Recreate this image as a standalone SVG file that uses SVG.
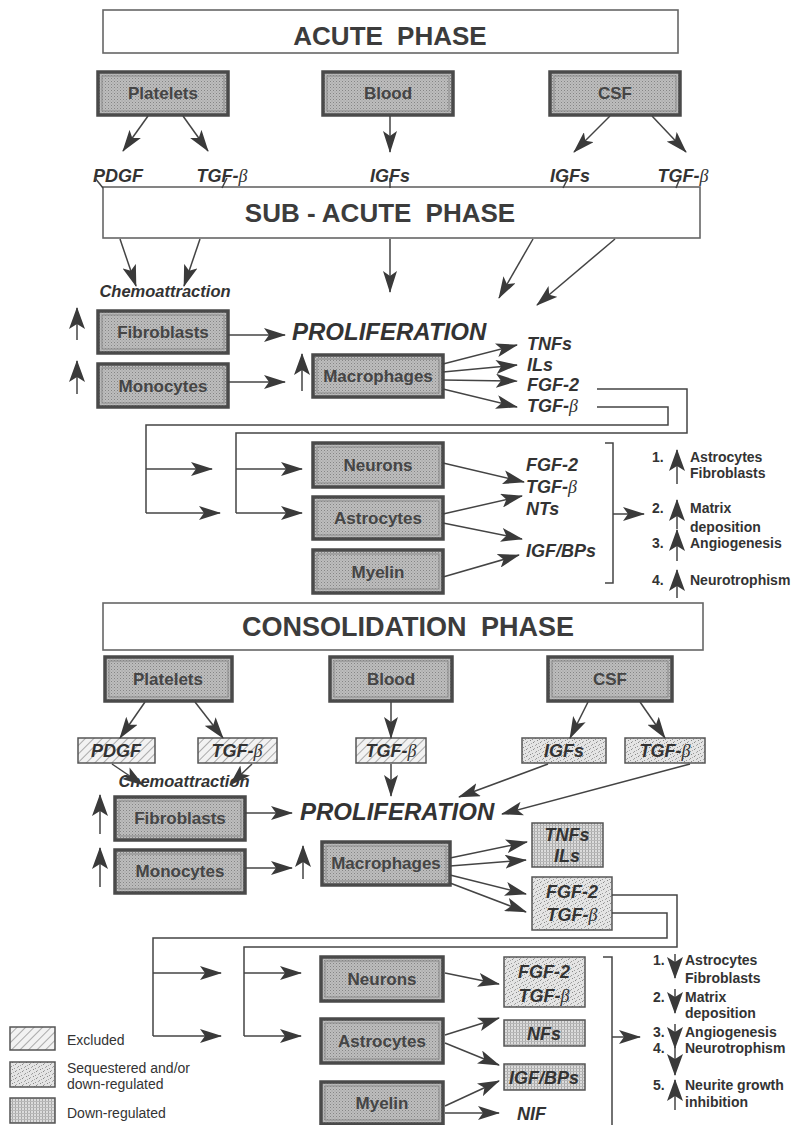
<svg xmlns="http://www.w3.org/2000/svg" width="798" height="1125" viewBox="0 0 798 1125">
<defs>
<style>
.hdr{fill:#fff;stroke:#666;stroke-width:1.6}
.ht{font-family:"Liberation Sans",Arial,sans-serif;font-weight:bold;font-size:26px;fill:#3c3c3c;text-anchor:middle}
.node{fill:url(#nodefill);stroke:#4a4a4a;stroke-width:3.5}
.inner{fill:none;stroke:#8a8a8a;stroke-width:1}
.nt{font-family:"Liberation Sans",Arial,sans-serif;font-weight:bold;font-size:17px;fill:#454545;text-anchor:middle}
.lb{font-family:"Liberation Sans",Arial,sans-serif;font-weight:bold;font-style:italic;font-size:18px;fill:#333}
.lbm{font-family:"Liberation Sans",Arial,sans-serif;font-weight:bold;font-style:italic;font-size:18px;fill:#333;text-anchor:middle}
.big{font-family:"Liberation Sans",Arial,sans-serif;font-weight:bold;font-style:italic;font-size:24px;fill:#333}
.chemo{font-family:"Liberation Sans",Arial,sans-serif;font-weight:bold;font-style:italic;font-size:16.5px;fill:#333;text-anchor:middle}
.li{font-family:"Liberation Sans",Arial,sans-serif;font-weight:bold;font-size:14px;fill:#333}
.lg{font-family:"Liberation Sans",Arial,sans-serif;font-size:14px;fill:#333}
.beta{font-family:"Liberation Serif","DejaVu Serif",serif;font-style:italic;font-weight:normal}
.cn{fill:none;stroke:#444;stroke-width:1.5}
.ar{fill:none;stroke:#444;stroke-width:1.5;marker-end:url(#ah)}
.ab{fill:none;stroke:#444;stroke-width:1.5;marker-end:url(#ahb)}
.hatch{fill:url(#hatch);stroke:#555;stroke-width:1.5}
.stip{fill:url(#stip);stroke:#555;stroke-width:1.5}
.grid{fill:url(#grid);stroke:#555;stroke-width:1.5}
</style>
<marker id="ah" viewBox="0 0 22 14" refX="21" refY="7" markerWidth="22" markerHeight="14" markerUnits="userSpaceOnUse" orient="auto">
<path d="M0,0 L22,7 L0,14 L5,7 Z" fill="#3a3a3a"/>
</marker>
<marker id="ahb" viewBox="0 0 22 16" refX="21" refY="8" markerWidth="22" markerHeight="16" markerUnits="userSpaceOnUse" orient="auto">
<path d="M0,0 L22,8 L0,16 L5,8 Z" fill="#3a3a3a"/>
</marker>
<pattern id="nodefill" width="3" height="3" patternUnits="userSpaceOnUse">
<rect width="3" height="3" fill="#bdbdbd"/>
<rect x="0" y="0" width="1" height="1" fill="#858585"/>
<rect x="1.5" y="1.5" width="1" height="1" fill="#999"/>
</pattern>
<pattern id="hatch" width="6" height="6" patternUnits="userSpaceOnUse" patternTransform="rotate(45)">
<rect width="6" height="6" fill="#f2f2f2"/>
<line x1="0" y1="0" x2="0" y2="6" stroke="#7a7a7a" stroke-width="1.2"/>
</pattern>
<pattern id="stip" width="7" height="7" patternUnits="userSpaceOnUse">
<rect width="7" height="7" fill="#e4e4e4"/>
<rect x="1" y="0" width="1" height="1" fill="#888"/>
<rect x="4" y="2" width="1" height="1" fill="#999"/>
<rect x="0" y="4" width="1" height="1" fill="#999"/>
<rect x="5" y="5" width="1" height="1" fill="#888"/>
<rect x="2" y="6" width="1" height="1" fill="#aaa"/>
<rect x="6" y="1" width="1" height="1" fill="#aaa"/>
<rect x="3" y="3" width="1" height="1" fill="#aaa"/>
</pattern>
<pattern id="grid" width="3" height="3" patternUnits="userSpaceOnUse">
<rect width="3" height="3" fill="#dcdcdc"/>
<rect x="0" y="0" width="1" height="3" fill="#a8a8a8"/>
<rect x="0" y="0" width="3" height="1" fill="#b8b8b8"/>
</pattern>
</defs>
<rect width="798" height="1125" fill="#fff"/>

<!-- ===== ACUTE / SUB-ACUTE ===== -->
<g id="acute-phase"><rect class="hdr" x="103" y="10" width="575" height="43"/><text class="ht" x="390" y="45">ACUTE <tspan dx="7">PHASE</tspan></text></g>
<g id="platelets1"><rect class="node" x="98" y="72" width="130" height="43"/><rect class="inner" x="102" y="76" width="122" height="35"/><text class="nt" x="163" y="99">Platelets</text></g>
<g id="blood1"><rect class="node" x="323" y="72" width="130" height="43"/><rect class="inner" x="327" y="76" width="122" height="35"/><text class="nt" x="388" y="99">Blood</text></g>
<g id="csf1"><rect class="node" x="550" y="72" width="130" height="43"/><rect class="inner" x="554" y="76" width="122" height="35"/><text class="nt" x="615" y="99">CSF</text></g>

<g id="labels1">
<text class="lbm" x="118" y="182">PDGF</text>
<text class="lbm" x="222" y="182">TGF-<tspan class="beta">β</tspan></text>
<text class="lbm" x="390" y="182">IGFs</text>
<text class="lbm" x="570" y="182">IGFs</text>
<text class="lbm" x="683" y="182">TGF-<tspan class="beta">β</tspan></text>
</g>

<g id="subacute-phase"><rect class="hdr" x="103" y="187" width="597" height="51"/><text class="ht" x="380" y="222">SUB - ACUTE <tspan dx="7">PHASE</tspan></text></g>

<text class="chemo" x="165" y="297">Chemoattraction</text>

<g id="fibroblasts1"><rect class="node" x="98" y="311" width="130" height="42"/><rect class="inner" x="102" y="315" width="122" height="34"/><text class="nt" x="163" y="338">Fibroblasts</text></g>
<g id="monocytes1"><rect class="node" x="98" y="364" width="130" height="43"/><rect class="inner" x="102" y="368" width="122" height="35"/><text class="nt" x="163" y="392">Monocytes</text></g>
<text class="big" x="292" y="340">PROLIFERATION</text>
<g id="macrophages1"><rect class="node" x="313" y="355" width="130" height="42"/><rect class="inner" x="317" y="359" width="122" height="34"/><text class="nt" x="378" y="382">Macrophages</text></g>

<g id="labels2">
<text class="lb" x="527" y="350">TNFs</text>
<text class="lb" x="527" y="371">ILs</text>
<text class="lb" x="527" y="391">FGF-2</text>
<text class="lb" x="527" y="412">TGF-<tspan class="beta">β</tspan></text>
</g>

<g id="neurons1"><rect class="node" x="313" y="443" width="130" height="44"/><rect class="inner" x="317" y="447" width="122" height="36"/><text class="nt" x="378" y="471">Neurons</text></g>
<g id="astrocytes1"><rect class="node" x="313" y="497" width="130" height="42"/><rect class="inner" x="317" y="501" width="122" height="34"/><text class="nt" x="378" y="524">Astrocytes</text></g>
<g id="myelin1"><rect class="node" x="313" y="550" width="130" height="43"/><rect class="inner" x="317" y="554" width="122" height="35"/><text class="nt" x="378" y="578">Myelin</text></g>

<g id="labels3">
<text class="lb" x="526" y="471">FGF-2</text>
<text class="lb" x="526" y="493">TGF-<tspan class="beta">β</tspan></text>
<text class="lb" x="526" y="515">NTs</text>
<text class="lb" x="526" y="557">IGF/BPs</text>
</g>

<g id="outcomes1">
<text class="li" x="652" y="462">1.</text><text class="li" x="690" y="462">Astrocytes</text><text class="li" x="690" y="478">Fibroblasts</text>
<text class="li" x="652" y="513">2.</text><text class="li" x="690" y="513">Matrix</text><text class="li" x="690" y="532">deposition</text>
<text class="li" x="652" y="548">3.</text><text class="li" x="690" y="548">Angiogenesis</text>
<text class="li" x="652" y="585">4.</text><text class="li" x="690" y="585">Neurotrophism</text>
</g>

<!-- ===== CONSOLIDATION ===== -->
<g id="consolidation-phase"><rect class="hdr" x="103" y="603" width="600" height="47"/><text class="ht" x="408" y="636" style="font-size:27px">CONSOLIDATION <tspan dx="7">PHASE</tspan></text></g>
<g id="platelets2"><rect class="node" x="105" y="657" width="127" height="44"/><rect class="inner" x="109" y="661" width="119" height="36"/><text class="nt" x="168" y="685">Platelets</text></g>
<g id="blood2"><rect class="node" x="330" y="657" width="122" height="44"/><rect class="inner" x="334" y="661" width="114" height="36"/><text class="nt" x="391" y="685">Blood</text></g>
<g id="csf2"><rect class="node" x="548" y="657" width="124" height="44"/><rect class="inner" x="552" y="661" width="116" height="36"/><text class="nt" x="610" y="685">CSF</text></g>

<g id="pdgf2"><rect class="hatch" x="78" y="738" width="77" height="25"/><text class="lbm" x="116" y="757">PDGF</text></g>
<g id="tgfb2a"><rect class="hatch" x="198" y="738" width="79" height="25"/><text class="lbm" x="237" y="757">TGF-<tspan class="beta">β</tspan></text></g>
<g id="tgfb2b"><rect class="hatch" x="356" y="738" width="70" height="25"/><text class="lbm" x="391" y="757">TGF-<tspan class="beta">β</tspan></text></g>
<g id="igfs2"><rect class="stip" x="522" y="738" width="84" height="25"/><text class="lbm" x="564" y="757">IGFs</text></g>
<g id="tgfb2c"><rect class="stip" x="625" y="738" width="80" height="25"/><text class="lbm" x="665" y="757">TGF-<tspan class="beta">β</tspan></text></g>

<text class="chemo" x="184" y="787">Chemoattraction</text>

<g id="fibroblasts2"><rect class="node" x="115" y="797" width="130" height="43"/><rect class="inner" x="119" y="801" width="122" height="35"/><text class="nt" x="180" y="824">Fibroblasts</text></g>
<g id="monocytes2"><rect class="node" x="115" y="850" width="130" height="43"/><rect class="inner" x="119" y="854" width="122" height="35"/><text class="nt" x="180" y="877">Monocytes</text></g>
<text class="big" x="300" y="820">PROLIFERATION</text>
<g id="macrophages2"><rect class="node" x="322" y="842" width="128" height="43"/><rect class="inner" x="326" y="846" width="120" height="35"/><text class="nt" x="386" y="869">Macrophages</text></g>

<g id="tnfs-ils2"><rect class="grid" x="532" y="823" width="71" height="44"/><text class="lbm" x="567" y="841">TNFs</text><text class="lbm" x="567" y="862">ILs</text></g>
<g id="fgf-tgf2a"><rect class="stip" x="532" y="877" width="80" height="53"/><text class="lbm" x="572" y="898">FGF-2</text><text class="lbm" x="572" y="921">TGF-<tspan class="beta">β</tspan></text></g>

<g id="neurons2"><rect class="node" x="321" y="957" width="122" height="44"/><rect class="inner" x="325" y="961" width="114" height="36"/><text class="nt" x="382" y="985">Neurons</text></g>
<g id="astrocytes2"><rect class="node" x="321" y="1019" width="122" height="44"/><rect class="inner" x="325" y="1023" width="114" height="36"/><text class="nt" x="382" y="1047">Astrocytes</text></g>
<g id="myelin2"><rect class="node" x="321" y="1082" width="122" height="42"/><rect class="inner" x="325" y="1086" width="114" height="34"/><text class="nt" x="382" y="1109">Myelin</text></g>

<g id="fgf-tgf2b"><rect class="stip" x="504" y="957" width="81" height="50"/><text class="lbm" x="544" y="978">FGF-2</text><text class="lbm" x="544" y="1002">TGF-<tspan class="beta">β</tspan></text></g>
<g id="nfs2"><rect class="grid" x="504" y="1020" width="81" height="26"/><text class="lbm" x="544" y="1040">NFs</text></g>
<g id="igfbps2"><rect class="grid" x="504" y="1064" width="81" height="26"/><text class="lbm" x="544" y="1084">IGF/BPs</text></g>
<text class="lb" x="517" y="1120">NIF</text>

<g id="outcomes2">
<text class="li" x="653" y="965">1.</text><text class="li" x="685" y="965">Astrocytes</text><text class="li" x="685" y="983">Fibroblasts</text>
<text class="li" x="653" y="1002">2.</text><text class="li" x="685" y="1002">Matrix</text><text class="li" x="685" y="1018">deposition</text>
<text class="li" x="653" y="1037">3.</text><text class="li" x="685" y="1037">Angiogenesis</text>
<text class="li" x="653" y="1053">4.</text><text class="li" x="685" y="1053">Neurotrophism</text>
<text class="li" x="653" y="1090">5.</text><text class="li" x="685" y="1090">Neurite growth</text><text class="li" x="685" y="1107">inhibition</text>
</g>

<g id="legend">
<rect class="hatch" x="10" y="1027" width="45" height="23"/><text class="lg" x="67" y="1045">Excluded</text>
<rect class="stip" x="10" y="1062" width="45" height="25"/><text class="lg" x="67" y="1073">Sequestered and/or</text><text class="lg" x="67" y="1089">down-regulated</text>
<rect class="grid" x="10" y="1098" width="45" height="25"/><text class="lg" x="67" y="1118">Down-regulated</text>
</g>

<!-- ===== CONNECTORS ===== -->
<g id="connectors">
<!-- acute -->
<line class="ar" x1="148" y1="116" x2="123" y2="151"/>
<line class="ar" x1="183" y1="116" x2="208" y2="151"/>
<line class="ar" x1="390" y1="116" x2="390" y2="152"/>
<line class="ar" x1="610" y1="116" x2="574" y2="152"/>
<line class="ar" x1="652" y1="116" x2="686" y2="152"/>
<line class="cn" x1="95" y1="178" x2="103" y2="188"/>
<line class="cn" x1="227" y1="178" x2="222" y2="188"/>
<line class="cn" x1="390" y1="178" x2="390" y2="188"/>
<line class="cn" x1="568" y1="178" x2="563" y2="188"/>
<line class="cn" x1="680" y1="178" x2="676" y2="188"/>
<!-- sub-acute -->
<line class="ar" x1="120" y1="239" x2="136" y2="286"/>
<line class="ar" x1="200" y1="239" x2="184" y2="286"/>
<line class="ar" x1="390" y1="239" x2="390" y2="292"/>
<line class="ar" x1="533" y1="239" x2="499" y2="298"/>
<line class="ar" x1="615" y1="239" x2="537" y2="305"/>
<line class="ab" x1="77" y1="340" x2="77" y2="308"/>
<line class="ab" x1="77" y1="394" x2="77" y2="361"/>
<line class="ar" x1="228" y1="335" x2="285" y2="335"/>
<line class="ar" x1="228" y1="382" x2="285" y2="382"/>
<line class="ab" x1="302" y1="391" x2="302" y2="354"/>
<line class="ar" x1="443" y1="364" x2="517" y2="345"/>
<line class="ar" x1="443" y1="372" x2="517" y2="365"/>
<line class="ar" x1="443" y1="380" x2="517" y2="381"/>
<line class="ar" x1="443" y1="389" x2="517" y2="407"/>
<polyline class="cn" points="597,389 687,389 687,433 236,433 236,513"/>
<polyline class="cn" points="597,407 668,407 668,425 146,425 146,513"/>
<line class="ar" x1="146" y1="469" x2="212" y2="469"/>
<line class="ar" x1="146" y1="513" x2="220" y2="513"/>
<line class="ar" x1="236" y1="469" x2="302" y2="469"/>
<line class="ar" x1="236" y1="513" x2="302" y2="513"/>
<line class="ar" x1="443" y1="463" x2="524" y2="482"/>
<line class="ar" x1="443" y1="514" x2="522" y2="496"/>
<line class="ar" x1="443" y1="523" x2="522" y2="539"/>
<line class="ar" x1="443" y1="577" x2="519" y2="555"/>
<polyline class="cn" points="605,443 613,443 613,583 605,583"/>
<line class="ar" x1="613" y1="514" x2="644" y2="514"/>
<line class="ab" x1="677" y1="484" x2="677" y2="450"/>
<line class="ab" x1="677" y1="529" x2="677" y2="500"/>
<line class="ab" x1="677" y1="561" x2="677" y2="530"/>
<line class="ab" x1="677" y1="598" x2="677" y2="570"/>
<!-- consolidation -->
<line class="ar" x1="145" y1="702" x2="120" y2="738"/>
<line class="ar" x1="195" y1="702" x2="223" y2="738"/>
<line class="ar" x1="391" y1="702" x2="391" y2="738"/>
<line class="ar" x1="588" y1="702" x2="570" y2="738"/>
<line class="ar" x1="640" y1="702" x2="665" y2="738"/>
<line class="ar" x1="112" y1="764" x2="143" y2="785"/>
<line class="ar" x1="252" y1="764" x2="230" y2="785"/>
<line class="ar" x1="391" y1="764" x2="391" y2="796"/>
<line class="ar" x1="548" y1="764" x2="459" y2="797"/>
<line class="ar" x1="690" y1="764" x2="502" y2="814"/>
<line class="ab" x1="100" y1="834" x2="100" y2="795"/>
<line class="ab" x1="100" y1="887" x2="100" y2="848"/>
<line class="ar" x1="245" y1="813" x2="292" y2="813"/>
<line class="ar" x1="245" y1="868" x2="292" y2="868"/>
<line class="ab" x1="303" y1="879" x2="303" y2="846"/>
<line class="ar" x1="450" y1="858" x2="527" y2="842"/>
<line class="ar" x1="450" y1="866" x2="526" y2="860"/>
<line class="ar" x1="450" y1="875" x2="526" y2="894"/>
<line class="ar" x1="450" y1="883" x2="526" y2="912"/>
<polyline class="cn" points="612,895 677,895 677,947 244,947 244,1036"/>
<polyline class="cn" points="612,913 667,913 667,938 153,938 153,1036"/>
<line class="ar" x1="153" y1="973" x2="221" y2="973"/>
<line class="ar" x1="153" y1="1036" x2="221" y2="1036"/>
<line class="ar" x1="244" y1="973" x2="301" y2="973"/>
<line class="ar" x1="244" y1="1036" x2="301" y2="1036"/>
<line class="ar" x1="445" y1="973" x2="499" y2="984"/>
<line class="ar" x1="445" y1="1035" x2="499" y2="1018"/>
<line class="ar" x1="445" y1="1043" x2="499" y2="1065"/>
<line class="ar" x1="445" y1="1106" x2="499" y2="1081"/>
<line class="ar" x1="445" y1="1113" x2="499" y2="1113"/>
<polyline class="cn" points="603,957 612,957 612,1125"/>
<line class="ar" x1="612" y1="1037" x2="640" y2="1037"/>
<line class="ab" x1="675" y1="954" x2="675" y2="978"/>
<line class="ab" x1="675" y1="989" x2="675" y2="1013"/>
<line class="ab" x1="675" y1="1024" x2="675" y2="1048"/>
<line class="ab" x1="675" y1="1046" x2="675" y2="1075"/>
<line class="ab" x1="675" y1="1110" x2="675" y2="1080"/>
</g>
</svg>
